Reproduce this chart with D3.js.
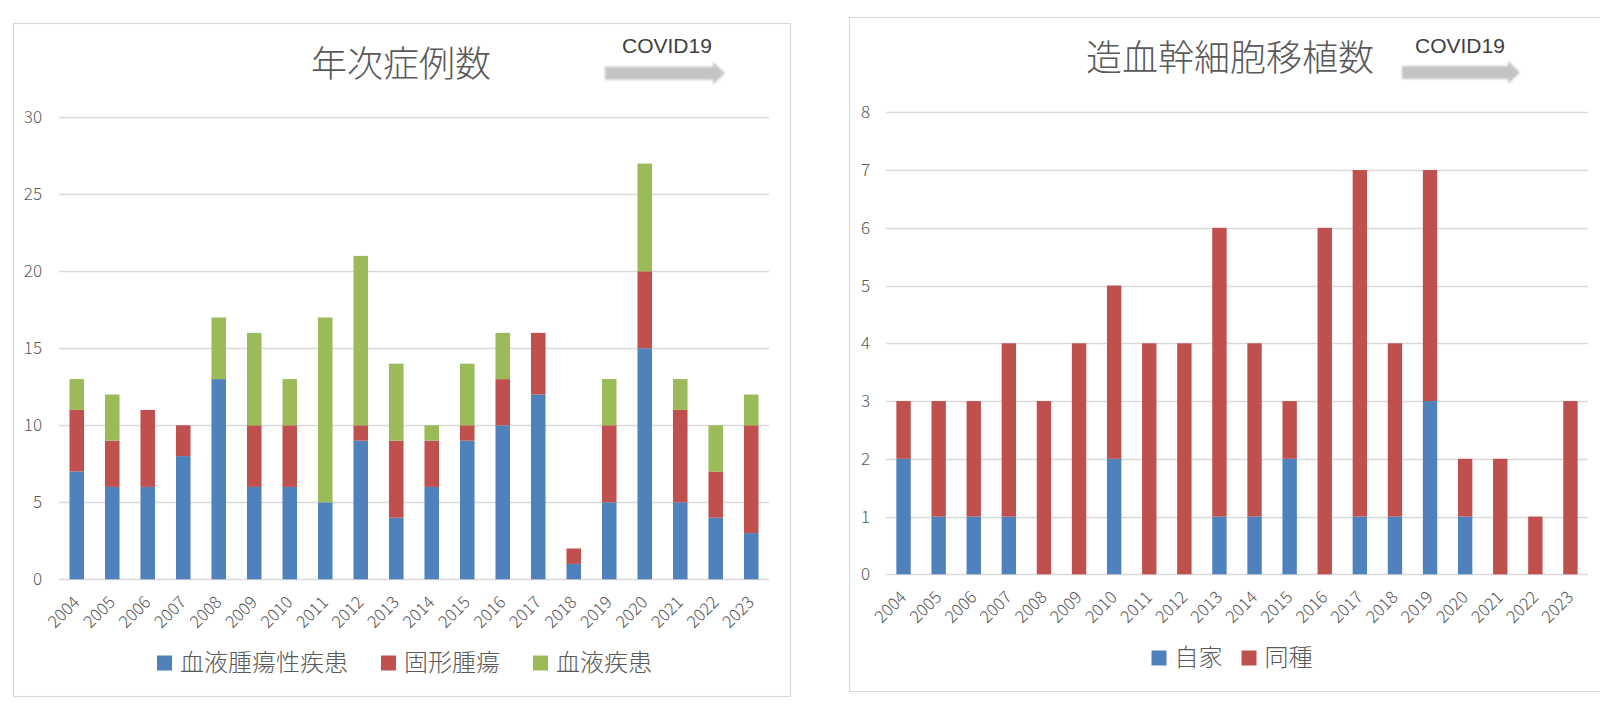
<!DOCTYPE html>
<html>
<head>
<meta charset="utf-8">
<script src="https://cdn.jsdelivr.net/npm/d3@7"></script>
<style>
  body { margin: 0; background: #fff; }
  text { font-family: "Noto Sans CJK JP", "Noto Sans", sans-serif; }
</style>
</head>
<body>
<script>
// データ
const years = ["2004", "2005", "2006", "2007", "2008", "2009", "2010", "2011", "2012", "2013",
               "2014", "2015", "2016", "2017", "2018", "2019", "2020", "2021", "2022", "2023"];

// 年次症例数
const ketsuekiShuyo = [7, 6, 6, 8, 13, 6, 6, 5, 9, 4, 6, 9, 10, 12, 1, 5, 15, 5, 4, 3];
const koukeiShuyo   = [4, 3, 5, 2, 0, 4, 4, 0, 1, 5, 3, 1, 3, 4, 1, 5, 5, 6, 3, 7];
const ketsuekiShikkan = [2, 3, 0, 0, 4, 6, 3, 12, 11, 5, 1, 4, 3, 0, 0, 3, 7, 2, 3, 2];
const caseSeries = ["血液腫瘍性疾患", "固形腫瘍", "血液疾患"];
const caseTicks = [0, 5, 10, 15, 20, 25, 30];

// 造血幹細胞移植数
const jika   = [2, 1, 1, 1, 0, 0, 2, 0, 0, 1, 1, 2, 0, 1, 1, 3, 1, 0, 0, 0];
const doushu = [1, 2, 2, 3, 3, 4, 3, 4, 4, 5, 3, 1, 6, 6, 3, 4, 1, 2, 1, 3];
const sctSeries = ["自家", "同種"];
const sctTicks = [0, 1, 2, 3, 4, 5, 6, 7, 8];

const colors = ["#4f81bd", "#c0504d", "#9bbb59"];
const textColor = "#595959";
const gridColor = "#d9d9d9";

const width = 1600;
const height = 708;

const svg = d3.select("body").append("svg")
    .attr("width", width)
    .attr("height", height);

// 矢印のぼかし
svg.append("defs").append("filter")
    .attr("id", "blur")
    .attr("x", "-10%").attr("y", "-50%")
    .attr("width", "120%").attr("height", "200%")
  .append("feGaussianBlur")
    .attr("stdDeviation", 1.1);

function drawPanel(p) {
    const g = svg.append("g");

    // 枠
    g.append("rect")
        .attr("x", p.box[0] + 0.5).attr("y", p.box[1] + 0.5)
        .attr("width", p.box[2]).attr("height", p.box[3])
        .attr("fill", "none")
        .attr("stroke", gridColor)
        .attr("stroke-width", 1.2);

    const x = d3.scaleBand()
        .domain(years)
        .range(p.xRange)
        .paddingInner(0.59)
        .paddingOuter(0.295);

    const y = d3.scaleLinear()
        .domain([0, d3.max(p.ticks)])
        .range(p.yRange);

    // グリッド
    g.append("g").selectAll("line")
        .data(p.ticks)
        .enter()
        .append("line")
        .attr("x1", p.xRange[0]).attr("x2", p.xRange[1])
        .attr("y1", d => Math.round(y(d)) + 0.5)
        .attr("y2", d => Math.round(y(d)) + 0.5)
        .attr("stroke", gridColor)
        .attr("stroke-width", 1.3);

    // Y軸ラベル
    g.append("g").selectAll("text")
        .data(p.ticks)
        .enter()
        .append("text")
        .attr("x", p.yLabelX)
        .attr("y", d => y(d))
        .attr("dy", "0.36em")
        .attr("text-anchor", "end")
        .attr("font-size", 17)
        .attr("font-weight", 300)
        .attr("fill", textColor)
        .text(d => d);

    // 積み上げ棒
    const rows = years.map((yr, i) => {
        const r = { year: yr };
        p.series.forEach((s, j) => { r[s] = p.values[j][i]; });
        return r;
    });
    const stacked = d3.stack().keys(p.series)(rows);

    g.append("g").selectAll("g")
        .data(stacked)
        .enter()
        .append("g")
        .attr("fill", (d, i) => colors[i])
        .selectAll("rect")
        .data(d => d)
        .enter()
        .append("rect")
        .attr("x", d => x(d.data.year))
        .attr("y", d => y(d[1]))
        .attr("width", x.bandwidth())
        .attr("height", d => y(d[0]) - y(d[1]));

    // X軸ラベル
    const y0 = y(0);
    g.append("g").selectAll("text")
        .data(years)
        .enter()
        .append("text")
        .attr("transform", d => {
            const cx = x(d) + x.bandwidth() / 2 + 4;
            return `translate(${cx},${y0 + 24}) rotate(-45)`;
        })
        .attr("text-anchor", "end")
        .attr("font-size", 17)
        .attr("font-weight", 300)
        .attr("fill", textColor)
        .text(d => d);

    // タイトル
    g.append("text")
        .attr("x", p.titleX)
        .attr("y", p.titleY)
        .attr("text-anchor", "middle")
        .attr("font-size", 36)
        .attr("font-weight", 300)
        .attr("fill", textColor)
        .text(p.title);

    // COVID19 矢印
    const a = p.arrow;
    g.append("path")
        .attr("d", `M${a.x0},${a.cy - 6.5} L${a.x1 - 12},${a.cy - 6.5} L${a.x1 - 12},${a.cy - 11.5}
                    L${a.x1},${a.cy} L${a.x1 - 12},${a.cy + 11.5} L${a.x1 - 12},${a.cy + 6.5}
                    L${a.x0},${a.cy + 6.5} Z`)
        .attr("fill", "#c4c4c4")
        .attr("filter", "url(#blur)");

    g.append("text")
        .attr("x", a.textX)
        .attr("y", 53)
        .style("font-family", "'Liberation Sans', Arial, sans-serif")
        .attr("font-size", 21)
        .attr("fill", "#404040")
        .text("COVID19");

    // 凡例
    const leg = g.append("g");
    const items = p.series.map((s, i) => {
        const it = leg.append("g");
        it.append("rect")
            .attr("width", 15).attr("height", 15)
            .attr("y", -7.5)
            .attr("fill", colors[i]);
        const t = it.append("text")
            .attr("x", 23)
            .attr("dy", "0.35em")
            .attr("font-size", 24)
            .attr("font-weight", 300)
            .attr("fill", textColor)
            .text(s);
        return { it, w: 23 + t.node().getComputedTextLength() };
    });
    const total = d3.sum(items, d => d.w) + p.legendGap * (items.length - 1);
    let cur = p.legendCx - total / 2;
    items.forEach(d => {
        d.it.attr("transform", `translate(${cur},${p.legendY})`);
        cur += d.w + p.legendGap;
    });
}

drawPanel({
    box: [13, 23, 777, 673],
    xRange: [59, 769],
    yRange: [579.3, 117.3],
    ticks: caseTicks,
    yLabelX: 42,
    series: caseSeries,
    values: [ketsuekiShuyo, koukeiShuyo, ketsuekiShikkan],
    title: "年次症例数",
    titleX: 401,
    titleY: 77,
    arrow: { x0: 605, x1: 725, cy: 73.3, textX: 622 },
    legendCx: 404.5,
    legendY: 663,
    legendGap: 33
});

drawPanel({
    box: [849, 17, 800, 674],
    xRange: [886, 1588],
    yRange: [574.3, 112.3],
    ticks: sctTicks,
    yLabelX: 870,
    series: sctSeries,
    values: [jika, doushu],
    title: "造血幹細胞移植数",
    titleX: 1230,
    titleY: 71,
    arrow: { x0: 1402, x1: 1520, cy: 72.5, textX: 1415 },
    legendCx: 1232,
    legendY: 658,
    legendGap: 19
});
</script>
</body>
</html>
